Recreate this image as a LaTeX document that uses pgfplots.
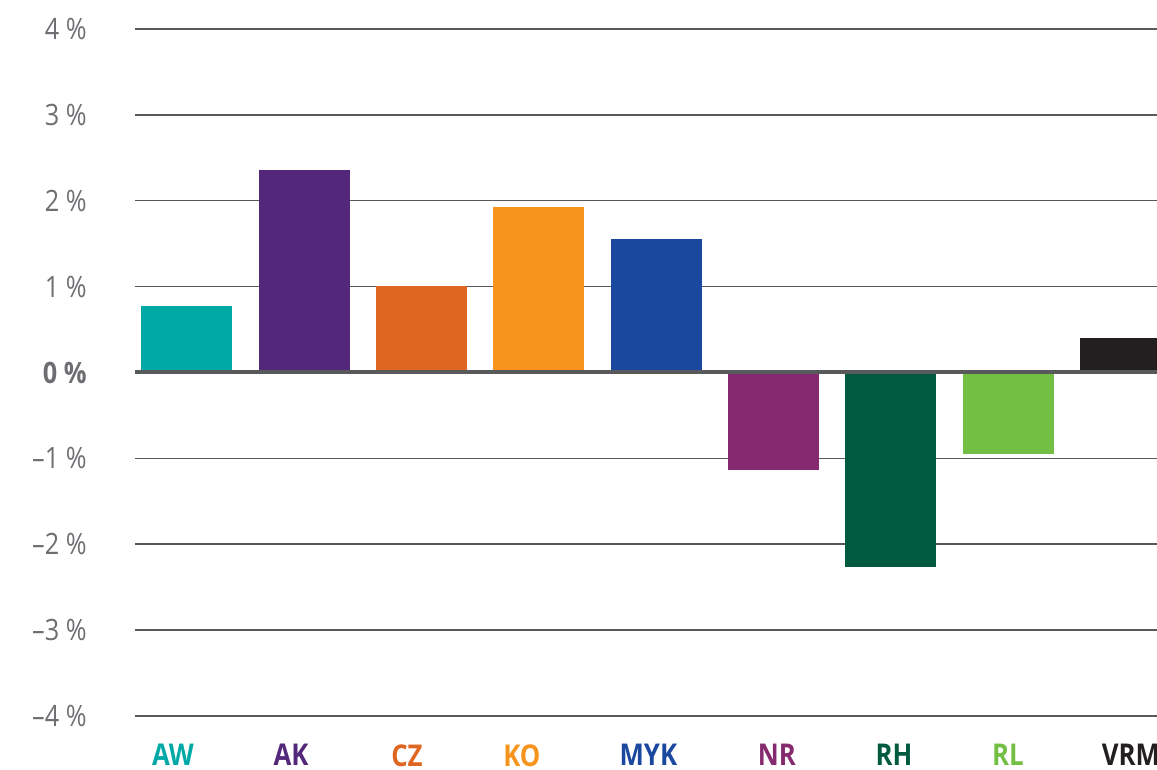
\documentclass[border=0pt]{standalone}
\usepackage{fontspec}
\setmainfont{Open Sans}[FakeStretch=0.86]
\usepackage{pgfplots}
\pgfplotsset{compat=1.18}
\definecolor{cAW}{HTML}{00A9A6}
\definecolor{cAK}{HTML}{532779}
\definecolor{cCZ}{HTML}{DF6620}
\definecolor{cKO}{HTML}{F7941D}
\definecolor{cMYK}{HTML}{1A489E}
\definecolor{cNR}{HTML}{862A6F}
\definecolor{cRH}{HTML}{005A3F}
\definecolor{cRL}{HTML}{72BF44}
\definecolor{cVRM}{HTML}{231F20}
\definecolor{tickgray}{HTML}{6D6E71}
\definecolor{gridgray}{HTML}{58595B}
\begin{document}
\begin{tikzpicture}
\path[use as bounding box, clip] (-67.5pt,-27pt) rectangle (511pt,358pt);
\begin{axis}[
  scale only axis,
  width=511pt, height=343.5pt,
  xmin=-0.443, xmax=8.27,
  ymin=-4, ymax=4,
  axis line style={draw=none},
  tick style={draw=none},
  major tick length=0pt,
  ytick={-4,-3,-2,-1,1,2,3,4},
  yticklabels={\textendash4~\%,\textendash3~\%,\textendash2~\%,\textendash1~\%,1~\%,2~\%,3~\%,4~\%},
  extra y ticks={0},
  extra y tick labels={\textbf{0~\%}},
  extra y tick style={grid=none},
  yticklabel style={anchor=east, inner sep=0pt, xshift=-24pt, text=tickgray, font=\fontsize{14.7}{17}\selectfont},
  ymajorgrids,
  grid style={line width=0.75pt, gridgray},
  xtick={-0.119,0.887,1.876,2.856,3.934,5.030,6.027,6.999,8.048},
  xticklabels={\textcolor{cAW}{AW},\textcolor{cAK}{AK},\textcolor{cCZ}{CZ},\textcolor{cKO}{KO},\textcolor{cMYK}{MYK},\textcolor{cNR}{NR},\textcolor{cRH}{RH},\textcolor{cRL}{RL},\textcolor{cVRM}{VRM}},
  xticklabel style={anchor=north, inner sep=0pt, yshift=-14pt, font=\fontsize{15}{17}\selectfont\bfseries},
  ybar, bar width=0.776, bar shift=0pt,
  every axis plot/.append style={draw=none},
]
\addplot[fill=cAW]  coordinates {(0,0.78)};
\addplot[fill=cAK]  coordinates {(1,2.36)};
\addplot[fill=cCZ]  coordinates {(2,1.01)};
\addplot[fill=cKO]  coordinates {(3,1.93)};
\addplot[fill=cMYK] coordinates {(4,1.56)};
\addplot[fill=cNR]  coordinates {(5,-1.14)};
\addplot[fill=cRH]  coordinates {(6,-2.26)};
\addplot[fill=cRL]  coordinates {(7,-0.95)};
\addplot[fill=cVRM] coordinates {(8,0.40)};
\addplot[sharp plot, draw=gridgray, line width=2pt, forget plot] coordinates {(-0.443,0) (8.27,0)};
\end{axis}
\end{tikzpicture}
\end{document}
